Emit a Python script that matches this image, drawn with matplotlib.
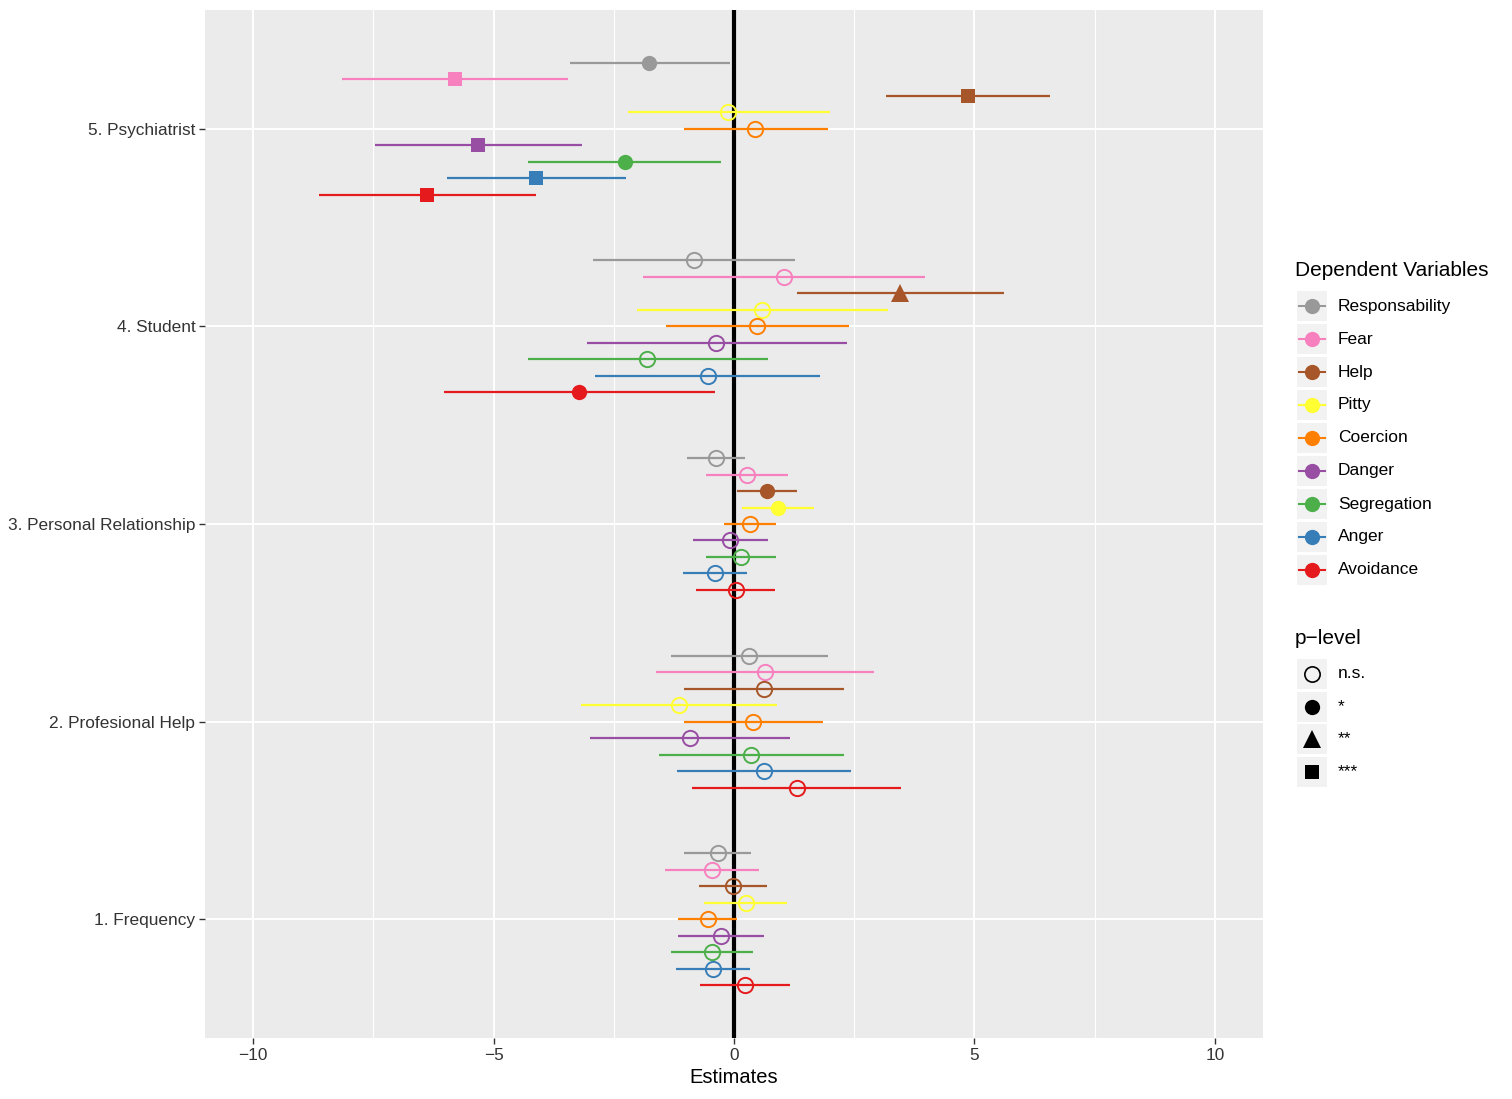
import matplotlib
matplotlib.use("Agg")
import matplotlib.pyplot as plt
from matplotlib.patches import Rectangle
from matplotlib.lines import Line2D

plt.rcParams["font.family"] = ["Liberation Sans", "DejaVu Sans"]

categories = ["1. Frequency", "2. Profesional Help", "3. Personal Relationship",
              "4. Student", "5. Psychiatrist"]
variables = ["Responsability", "Fear", "Help", "Pitty", "Coercion",
             "Danger", "Segregation", "Anger", "Avoidance"]
colors = ["#999999", "#F781BF", "#A65628", "#FFFF33", "#FF7F00",
          "#984EA3", "#4DAF4A", "#377EB8", "#E41A1C"]
p_levels = ["n.s.", "*", "**", "***"]

# estimates, lower and upper bounds, p-level code (0=n.s., 1=*, 2=**, 3=***)
# one list per category, in the order of `variables`
est_freq = [-0.33, -0.46, -0.02, 0.24, -0.55, -0.28, -0.45, -0.44, 0.23]
lo_freq = [-1.03, -1.43, -0.73, -0.63, -1.17, -1.17, -1.30, -1.21, -0.71]
hi_freq = [0.36, 0.51, 0.69, 1.10, 0.06, 0.62, 0.40, 0.34, 1.17]
sig_freq = [0, 0, 0, 0, 0, 0, 0, 0, 0]

est_help = [0.31, 0.64, 0.63, -1.14, 0.40, -0.92, 0.36, 0.62, 1.30]
lo_help = [-1.32, -1.62, -1.03, -3.18, -1.05, -3.00, -1.56, -1.19, -0.88]
hi_help = [1.95, 2.91, 2.28, 0.90, 1.86, 1.16, 2.29, 2.43, 3.48]
sig_help = [0, 0, 0, 0, 0, 0, 0, 0, 0]

est_pers = [-0.37, 0.27, 0.69, 0.91, 0.33, -0.08, 0.15, -0.40, 0.04]
lo_pers = [-0.98, -0.58, 0.06, 0.16, -0.21, -0.85, -0.58, -1.07, -0.78]
hi_pers = [0.23, 1.12, 1.31, 1.67, 0.88, 0.71, 0.88, 0.28, 0.85]
sig_pers = [0, 0, 1, 1, 0, 0, 0, 0, 0]

est_stud = [-0.83, 1.04, 3.46, 0.59, 0.48, -0.37, -1.81, -0.55, -3.22]
lo_stud = [-2.94, -1.89, 1.32, -2.01, -1.42, -3.06, -4.29, -2.88, -6.04]
hi_stud = [1.27, 3.98, 5.61, 3.21, 2.40, 2.34, 0.70, 1.78, -0.40]
sig_stud = [0, 0, 2, 0, 0, 0, 0, 0, 1]

est_psy = [-1.76, -5.81, 4.87, -0.13, 0.44, -5.33, -2.27, -4.12, -6.38]
lo_psy = [-3.42, -8.15, 3.17, -2.21, -1.05, -7.46, -4.28, -5.97, -8.62]
hi_psy = [-0.09, -3.46, 6.58, 1.99, 1.96, -3.17, -0.26, -2.25, -4.12]
sig_psy = [1, 3, 3, 0, 0, 3, 1, 3, 3]

estimates = [est_freq, est_help, est_pers, est_stud, est_psy]
lowers = [lo_freq, lo_help, lo_pers, lo_stud, lo_psy]
uppers = [hi_freq, hi_help, hi_pers, hi_stud, hi_psy]
sigs = [sig_freq, sig_help, sig_pers, sig_stud, sig_psy]

MARKERS = {0: ("o", False, 11), 1: ("o", True, 11),
           2: ("^", True, 12.5), 3: ("s", True, 10.5)}
DODGE = 0.75 / len(variables)

W, H = 1512, 1099
fig = plt.figure(figsize=(W / 100, H / 100), dpi=100)
ax = fig.add_axes([205 / W, 1 - 1038 / H, 1058 / W, 1028 / H])
ax.set_facecolor("#EBEBEB")
for s in ax.spines.values():
    s.set_visible(False)

ax.set_xlim(-11, 11)
ax.set_ylim(0.4, 5.6)
ax.set_xticks([-10, -5, 0, 5, 10])
ax.set_xticks([-7.5, -2.5, 2.5, 7.5], minor=True)
ax.set_yticks(range(1, len(categories) + 1))
ax.set_yticklabels(categories)
ax.grid(True, which="major", color="white", linewidth=1.4)
ax.grid(True, which="minor", axis="x", color="white", linewidth=0.8)
ax.set_axisbelow(True)
ax.tick_params(which="major", length=4, width=1, color="#333333",
               labelsize=12.4, labelcolor="#333333", pad=3)
ax.tick_params(which="minor", length=0)
ax.set_xlabel("Estimates", fontsize=14.5, labelpad=4)

ax.axvline(0, color="black", linewidth=3, zorder=2)

for ci in range(len(categories)):
    for vi, var in enumerate(variables):
        y = ci + 1 + (len(variables) // 2 - vi) * DODGE
        ax.plot([lowers[ci][vi], uppers[ci][vi]], [y, y], color=colors[vi],
                linewidth=1.6, zorder=3, solid_capstyle="butt")
        m, filled, ms = MARKERS[sigs[ci][vi]]
        ax.plot(estimates[ci][vi], y, marker=m, markersize=ms, linestyle="none",
                markerfacecolor=colors[vi] if filled else "none",
                markeredgecolor=colors[vi], markeredgewidth=0 if filled else 1.4,
                zorder=4)

# legend drawn in pixel coordinates of the figure
lg = fig.add_axes([0, 0, 1, 1])
lg.set_xlim(0, W)
lg.set_ylim(H, 0)
lg.axis("off")

lg.text(1295, 271, "Dependent Variables", fontsize=15, va="center", ha="left")
for i, (var, col) in enumerate(zip(variables, colors)):
    yc = 306 + i * 33
    lg.add_patch(Rectangle((1297, yc - 15), 30, 30, facecolor="#F2F2F2",
                           edgecolor="none"))
    lg.add_line(Line2D([1299, 1325], [yc, yc], color=col, linewidth=1.5))
    lg.plot(1312, yc, marker="o", markersize=11, color=col,
            markeredgewidth=0)
    lg.text(1338, yc, var, fontsize=12.5, va="center", ha="left")

lg.text(1295, 639, "p\u2212level", fontsize=15, va="center", ha="left")
for i, p in enumerate(p_levels):
    yc = 674 + i * 32.5
    lg.add_patch(Rectangle((1297, yc - 15), 30, 30, facecolor="#F2F2F2",
                           edgecolor="none"))
    m, filled, ms = MARKERS[i]
    lg.plot(1312, yc, marker=m, markersize=ms,
            markerfacecolor="black" if filled else "none",
            markeredgecolor="black", markeredgewidth=0 if filled else 1.2)
    lg.text(1338, yc, p, fontsize=12.5, va="center", ha="left")

fig.savefig("out.png", dpi=100)
